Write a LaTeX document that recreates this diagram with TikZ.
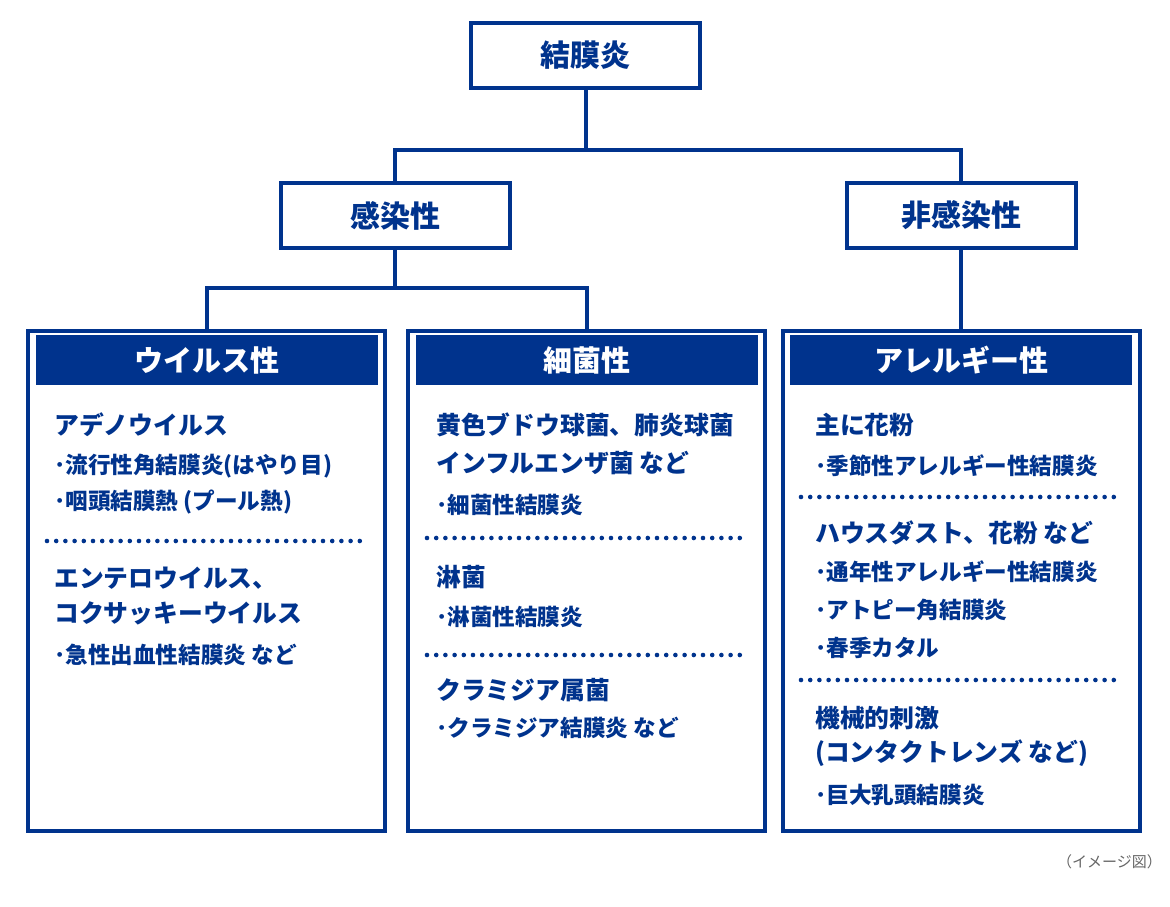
\documentclass[tikz,border=0pt]{standalone}
\usepackage{fontspec}
\setmainfont{Noto Sans CJK JP}
\definecolor{navy}{RGB}{0,51,141}
\tikzset{
  box/.style={draw=navy, line width=4pt, fill=white, text=navy,
    font=\fontsize{30}{34}\selectfont\bfseries,
    minimum width=229pt, minimum height=65pt},
  panel/.style={draw=navy, line width=4pt, minimum width=357pt, minimum height=500pt},
  head/.style={fill=navy, text=white, anchor=north,
    font=\fontsize{29}{34}\selectfont\bfseries,
    minimum width=342pt, minimum height=50pt},
  item/.style={anchor=west, text=navy, inner sep=0pt,
    font=\fontsize{24.8}{28}\selectfont\bfseries},
  sub/.style={item, font=\fontsize{22.6}{26}\selectfont\bfseries},
  sep/.style={navy, line width=4.6pt, line cap=round, dash pattern=on 0pt off 9.2pt},
  link/.style={navy, line width=4pt}
}

\begin{document}
\begin{tikzpicture}[x=1pt,y=-1pt]
\useasboundingbox (0,0) rectangle (1170,907);

% tree
\node[box] (top) at (585.5,55.5) {結膜炎};
\node[box] (infect) at (395,215.5) {感染性};
\node[box] (noninfect) at (961,215.5) {非感染性};

\node[panel] (virus) at (206.5,581) {};
\node[panel] (bact) at (586.5,581) {};
\node[panel] (allergy) at (961,581) {};

\coordinate (split) at (585.5,150);
\coordinate (bsplit) at (395,288);
\draw[link] (top.south) -- (split);
\draw[link] (infect.north) |- (split) -| (noninfect.north);
\draw[link] (infect.south) -- (bsplit);
\draw[link] (virus.north) |- (bsplit) -| (bact.north);
\draw[link] (noninfect.south) -- (allergy.north);

\node[head] (virushead) at ([yshift=-6pt]virus.north) {ウイルス性};
\node[head] (bacthead) at ([yshift=-6pt]bact.north) {細菌性};
\node[head] (allergyhead) at ([yshift=-6pt]allergy.north) {アレルギー性};

% virus
\node[item] (v1) at (54,425) {アデノウイルス};
\node[sub] (v2) at (54,466) {･流行性角結膜炎(はやり目)};
\node[sub] (v3) at (54,502) {･咽頭結膜熱 (プール熱)};
\draw[sep] (47,541) -- (366,541);
\node[item] (v4) at (54,578) {エンテロウイルス、};
\node[item] (v5) at (54,613) {コクサッキーウイルス};
\node[sub] (v6) at (54,655) {･急性出血性結膜炎 など};

% bacteria
\node[item] (b1) at (436,425) {黄色ブドウ球菌、肺炎球菌};
\node[item] (b2) at (436,463) {インフルエンザ菌 など};
\node[sub] (b3) at (436,505) {･細菌性結膜炎};
\draw[sep] (427,538) -- (746,538);
\node[item] (b4) at (436,577) {淋菌};
\node[sub] (b5) at (436,617) {･淋菌性結膜炎};
\draw[sep] (427,655) -- (746,655);
\node[item] (b6) at (436,690) {クラミジア属菌};
\node[sub] (b7) at (436,728) {･クラミジア結膜炎 など};

% allergy
\node[item] (a1) at (815,425) {主に花粉};
\node[sub] (a2) at (815,466) {･季節性アレルギー性結膜炎};
\draw[sep] (801,497) -- (1120,497);
\node[item] (a3) at (815,533) {ハウスダスト、花粉 など};
\node[sub] (a4) at (815,572) {･通年性アレルギー性結膜炎};
\node[sub] (a5) at (815,610) {･アトピー角結膜炎};
\node[sub] (a6) at (815,648) {･春季カタル};
\draw[sep] (801,680) -- (1120,680);
\node[item] (a7) at (815,718) {機械的刺激};
\node[item] (a8) at (815,753) {(コンタクトレンズ など)};
\node[sub] (a9) at (815,795) {･巨大乳頭結膜炎};

\node[anchor=east, inner sep=0pt, text=black!60, font=\fontsize{15}{17}\selectfont] (note) at (1162,862) {（イメージ図）};
\end{tikzpicture}
\end{document}
